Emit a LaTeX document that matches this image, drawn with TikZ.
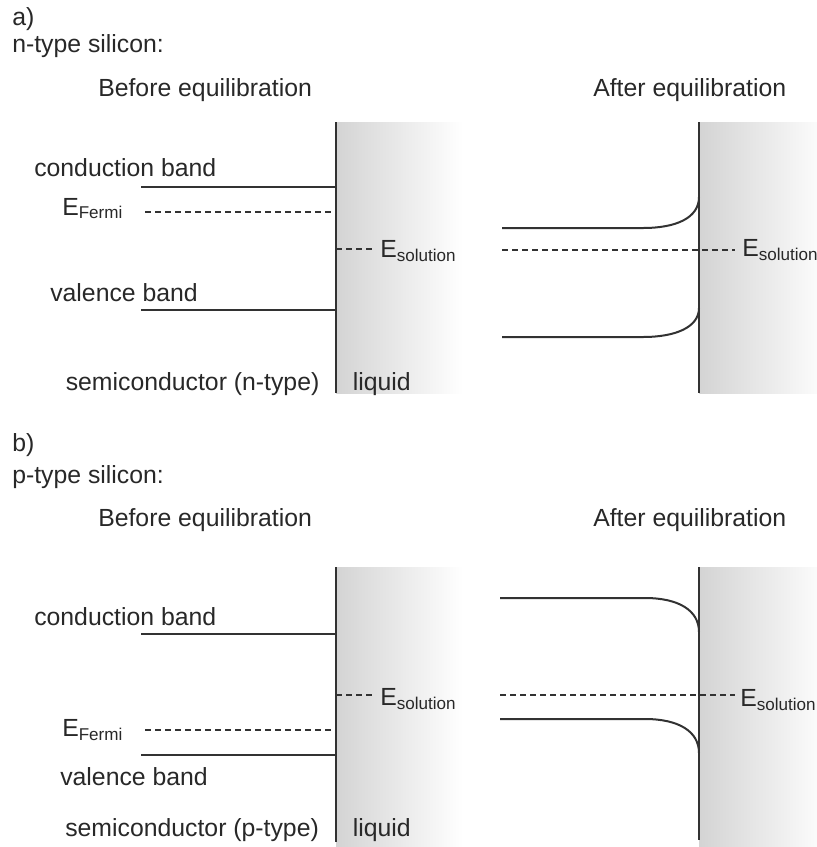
\documentclass[tikz,border=0pt]{standalone}
\usepackage{fontspec}
\setmainfont{Liberation Sans}
\usepackage{tikz}
\usetikzlibrary{positioning}

\definecolor{inkgray}{RGB}{40,40,40}
\definecolor{linegray}{RGB}{50,50,50}
\newcommand{\Elevel}[1]{E\raisebox{-2.6pt}{\fontsize{12.8}{14}\selectfont #1}}

\tikzset{
  txt/.style={anchor=base west, inner sep=0pt, text=inkgray, font=\fontsize{18.6}{22}\selectfont},
  band/.style={draw=linegray, line width=1.5pt},
  fermi/.style={draw=linegray, line width=1.4pt, dash pattern=on 4.5pt off 3pt},
  iface/.style={draw=linegray, line width=2pt},
  liquidbox/.style={left color=black!17, right color=white}
}

\begin{document}
\begin{tikzpicture}[x=0.75pt,y=0.75pt,yscale=-1]
\useasboundingbox (0,0) rectangle (817,847);

%%%%% a) n-type silicon

% Text Node
\node[txt] (tagA) at (12,25) {a)};
% Text Node
\node[txt] (titleA) at (12,52) {n-type silicon:};
% Text Node
\node[txt] (beforeA) at (98,96) {Before equilibration};
% Text Node
\node[txt] (afterA) at (593,96) {After equilibration};

%Shape: Liquid [id:before a]
\shade[liquidbox] (336,122) rectangle (463,393);
\draw[iface] (336,122) -- (336,393);
%Straight Lines
\draw[band] (141,187) -- (336,187);
\draw[fermi] (145,212) -- (336,212);
\draw[fermi] (336,249) -- (372,249);
\draw[band] (141,310) -- (336,310);

% Text Node
\node[txt] (cbA) at (34,176) {conduction band};
% Text Node
\node[txt] (efA) at (62,215) {\Elevel{Fermi}};
% Text Node
\node[txt] (esA) at (380,257.7) {\Elevel{solution}};
% Text Node
\node[txt] (vbA) at (50,301.7) {valence band};
% Text Node
\node[txt] (scA) at (65.5,390) {semiconductor (n-type)};
% Text Node
\node[txt] (liqA) at (352.5,390) {liquid};

%Shape: Liquid [id:after a]
\shade[liquidbox] (699,122) rectangle (830,393);
\draw[iface] (699,122) -- (699,393);
%Curves
\draw[band] (502,228) -- (643,228) .. controls (676,228) and (699,218) .. (699,197);
\draw[fermi] (502,250) -- (735,250);
\draw[band] (502,337) -- (643,337) .. controls (676,337) and (699,327) .. (699,308);

% Text Node
\node[txt] (esA2) at (742,256.7) {\Elevel{solution}};

%%%%% b) p-type silicon

% Text Node
\node[txt] (tagB) at (12,451.7) {b)};
% Text Node
\node[txt] (titleB) at (12,483) {p-type silicon:};
% Text Node
\node[txt] (beforeB) at (98,526) {Before equilibration};
% Text Node
\node[txt] (afterB) at (593,526) {After equilibration};

%Shape: Liquid [id:before b]
\shade[liquidbox] (336,567) rectangle (463,850);
\draw[iface] (336,567) -- (336,842);
%Straight Lines
\draw[band] (141,634) -- (336,634);
\draw[fermi] (336,695) -- (372,695);
\draw[fermi] (145,730) -- (336,730);
\draw[band] (141,755) -- (336,755);

% Text Node
\node[txt] (cbB) at (34,625) {conduction band};
% Text Node
\node[txt] (esB) at (380,705.7) {\Elevel{solution}};
% Text Node
\node[txt] (efB) at (62,736.7) {\Elevel{Fermi}};
% Text Node
\node[txt] (vbB) at (60,785) {valence band};
% Text Node
\node[txt] (scB) at (65,836.7) {semiconductor (p-type)};
% Text Node
\node[txt] (liqB) at (352.5,836.7) {liquid};

%Shape: Liquid [id:after b]
\shade[liquidbox] (699,567) rectangle (830,850);
\draw[iface] (699,567) -- (699,840);
%Curves
\draw[band] (500,598) -- (645,598) .. controls (678,598) and (699,610) .. (699,632);
\draw[fermi] (500,695) -- (735,695);
\draw[band] (500,719) -- (645,719) .. controls (678,719) and (699,731) .. (699,753);

% Text Node
\node[txt] (esB2) at (740,706.7) {\Elevel{solution}};

\end{tikzpicture}
\end{document}
